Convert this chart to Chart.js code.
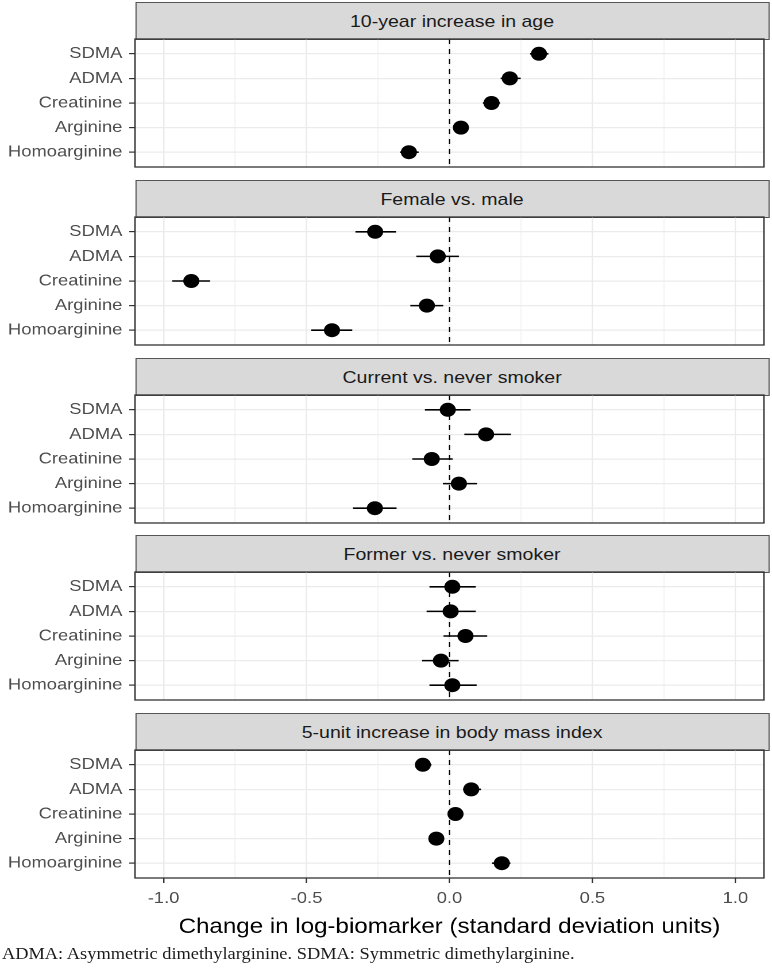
<!DOCTYPE html>
<html><head><meta charset="utf-8">
<script src="https://cdn.jsdelivr.net/npm/chart.js@4.4.1/dist/chart.umd.min.js"></script>
<style>
html,body{margin:0;padding:0;background:#fff;width:772px;height:978px;overflow:hidden;}
#stage{position:absolute;left:0;top:0;width:672px;height:978px;transform-origin:0 0;}
.strip{position:absolute;box-sizing:border-box;background:#D9D9D9;border:1.2px solid #555;color:#1A1A1A;font:17px "Liberation Sans",Arial,sans-serif;display:flex;align-items:center;justify-content:center;padding-top:2px;white-space:nowrap;}
.wrap{position:absolute;left:0;width:672px;}
#note{position:absolute;left:1.7px;top:946px;font:16px "Liberation Serif","Times New Roman",serif;color:#1a1a1a;white-space:nowrap;line-height:16px;}
</style></head><body>
<div id="stage"></div>
<script>
// ---- data ----
const categories = ['SDMA','ADMA','Creatinine','Arginine','Homoarginine'];
const panelTitles = ['10-year increase in age','Female vs. male','Current vs. never smoker','Former vs. never smoker','5-unit increase in body mass index'];
const xTickValues = [-1.0,-0.75,-0.5,-0.25,0,0.25,0.5,0.75,1.0];
const axisTitle = 'Change in log-biomarker (standard deviation units)';
const footnote = 'ADMA: Asymmetric dimethylarginine. SDMA: Symmetric dimethylarginine.';

const ageEst = [0.313, 0.211, 0.147, 0.040, -0.142];
const ageLo  = [0.282, 0.179, 0.117, 0.018, -0.173];
const ageHi  = [0.346, 0.249, 0.177, 0.062, -0.108];

const sexEst = [-0.260, -0.041, -0.903, -0.079, -0.411];
const sexLo  = [-0.329, -0.116, -0.970, -0.137, -0.484];
const sexHi  = [-0.187,  0.033, -0.837, -0.022, -0.340];

const currentEst = [-0.006, 0.128, -0.062, 0.033, -0.261];
const currentLo  = [-0.086, 0.052, -0.130, -0.023, -0.338];
const currentHi  = [ 0.074, 0.215,  0.011,  0.096, -0.185];

const formerEst = [0.010, 0.004, 0.056, -0.030, 0.010];
const formerLo  = [-0.070, -0.080, -0.021, -0.096, -0.070];
const formerHi  = [0.092, 0.092, 0.132, 0.032, 0.095];

const bmiEst = [-0.093, 0.076, 0.021, -0.046, 0.183];
const bmiLo  = [-0.118, 0.048, -0.004, -0.070, 0.149];
const bmiHi  = [-0.063, 0.110, 0.048, -0.019, 0.213];

// ---- layout ----
const STAGE_W = 672;
const SX = 772 / STAGE_W;
const stage = document.getElementById('stage');
stage.style.transform = 'scaleX(' + SX + ')';
const PANEL_LEFT = 117.5, PANEL_RIGHT_PAD = 2.5;
const headerTops = [2, 180, 358, 535, 713];
const HEADER_H = 37, PLOT_H = 128, XAXIS_H = 62;
const FONT = '"Liberation Sans", Arial, sans-serif';

const panelData = [
  [ageEst, ageLo, ageHi],
  [sexEst, sexLo, sexHi],
  [currentEst, currentLo, currentHi],
  [formerEst, formerLo, formerHi],
  [bmiEst, bmiLo, bmiHi]
];

const isMajor = v => Math.abs(v * 2 - Math.round(v * 2)) < 1e-9;

const borderPlugin = {
  id: 'panelBorder',
  afterDraw(chart) {
    const {ctx, chartArea: a} = chart;
    ctx.save();
    ctx.strokeStyle = '#333333';
    ctx.lineWidth = 1.3;
    ctx.strokeRect(a.left, a.top, a.right - a.left, a.bottom - a.top);
    ctx.restore();
  }
};

function makeConfig(est, lo, hi, isBottom) {
  const datasets = [];
  datasets.push({
    data: est.map((v, i) => ({x: v, y: i})),
    pointRadius: 7, pointHoverRadius: 7, backgroundColor: '#000', borderWidth: 0, order: 0
  });
  datasets.push({
    data: [{x: 0, y: -0.6}, {x: 0, y: 4.6}],
    showLine: true, borderColor: '#000', borderWidth: 1.1, borderDash: [5, 5],
    pointRadius: 0, order: 1
  });
  categories.forEach((c, i) => {
    datasets.push({
      data: [{x: lo[i], y: i}, {x: hi[i], y: i}],
      showLine: true, borderColor: '#000', borderWidth: 1.6, pointRadius: 0, order: 2
    });
  });
  return {
    type: 'scatter',
    data: {datasets},
    options: {
      animation: false,
      responsive: true,
      maintainAspectRatio: false,
      devicePixelRatio: 2,
      events: [],
      layout: {padding: {top: 2, bottom: isBottom ? 0 : 2, left: 0, right: PANEL_RIGHT_PAD}},
      plugins: {legend: {display: false}, tooltip: {enabled: false}},
      scales: {
        x: {
          type: 'linear', min: -1.1, max: 1.1,
          afterBuildTicks: s => { s.ticks = xTickValues.map(v => ({value: v})); },
          afterFit: s => { s.height = isBottom ? XAXIS_H : 0; s.paddingLeft = 0; s.paddingRight = 0; },
          ticks: {
            display: isBottom, autoSkip: false, maxRotation: 0, minRotation: 0, padding: 6,
            color: '#4D4D4D', font: {family: FONT, size: 16},
            callback: v => isMajor(v) ? v.toFixed(1) : ''
          },
          grid: {
            color: '#EBEBEB',
            lineWidth: ctx => (ctx.tick && isMajor(ctx.tick.value)) ? 1.2 : 0.6,
            drawTicks: isBottom, tickLength: 5, tickWidth: 1.2,
            tickColor: ctx => (ctx.tick && isMajor(ctx.tick.value)) ? '#333333' : 'rgba(0,0,0,0)'
          },
          border: {display: false},
          title: {
            display: isBottom, text: axisTitle, color: '#000',
            font: {family: FONT, size: 21}, padding: {top: 0, bottom: 0}
          }
        },
        y: {
          type: 'linear', reverse: true, min: -0.6, max: 4.6,
          afterBuildTicks: s => { s.ticks = categories.map((c, i) => ({value: i})); },
          afterFit: s => { s.width = PANEL_LEFT; s.paddingTop = 0; s.paddingBottom = 0; },
          ticks: {
            autoSkip: false, padding: 6, color: '#4D4D4D',
            font: {family: FONT, size: 16, lineHeight: 0.01},
            callback: v => categories[v]
          },
          grid: {color: '#EBEBEB', lineWidth: 1.2, drawTicks: true, tickLength: 5, tickWidth: 1.2, tickColor: '#333333'},
          border: {display: false}
        }
      }
    },
    plugins: [borderPlugin]
  };
}

panelTitles.forEach((title, i) => {
  const isBottom = i === panelTitles.length - 1;
  const strip = document.createElement('div');
  strip.className = 'strip';
  strip.style.left = PANEL_LEFT + 'px';
  strip.style.width = (STAGE_W - PANEL_LEFT - PANEL_RIGHT_PAD) + 'px';
  strip.style.top = headerTops[i] + 'px';
  strip.style.height = (HEADER_H + 1) + 'px';
  strip.textContent = title;
  stage.appendChild(strip);

  const plotTop = headerTops[i] + HEADER_H;
  const wrap = document.createElement('div');
  wrap.className = 'wrap';
  let wrapH = isBottom ? 2 + PLOT_H + XAXIS_H : 2 + PLOT_H + 2;
  wrap.style.top = (plotTop - 2) + 'px';
  wrap.style.height = wrapH + 'px';
  const canvas = document.createElement('canvas');
  wrap.appendChild(canvas);
  stage.appendChild(wrap);
  const [est, lo, hi] = panelData[i];
  const chart = new Chart(canvas, makeConfig(est, lo, hi, isBottom));

  // make sure the plotting area lands exactly on the panel rectangle
  const a = chart.chartArea;
  if (a && (Math.abs(a.top - 2) > 0.5 || Math.abs((a.bottom - a.top) - PLOT_H) > 0.5)) {
    const below = wrapH - a.bottom;
    const newH = a.top + PLOT_H + below;
    wrap.style.top = (plotTop - a.top) + 'px';
    wrap.style.height = newH + 'px';
    chart.resize();
  }
});

const note = document.createElement('div');
note.id = 'note';
note.textContent = footnote;
stage.appendChild(note);
</script>
</body></html>
